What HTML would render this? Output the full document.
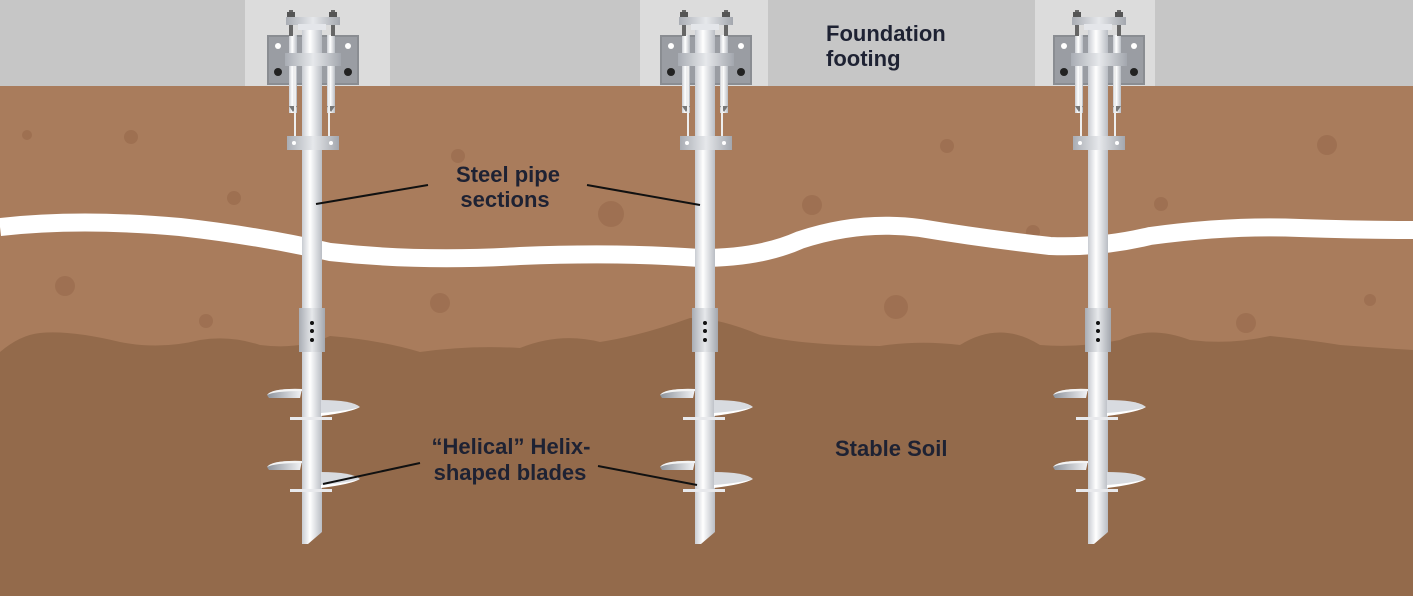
<!DOCTYPE html>
<html><head><meta charset="utf-8"><style>
html,body{margin:0;padding:0;background:#fff}
svg{display:block}
text{font-family:"Liberation Sans",sans-serif;font-weight:bold;fill:#1e2233}
</style></head><body>
<svg width="1413" height="596" viewBox="0 0 1413 596" xmlns="http://www.w3.org/2000/svg">
<defs>
<linearGradient id="pipe" x1="0" x2="1" y1="0" y2="0">
<stop offset="0" stop-color="#c9ccd2"/><stop offset="0.4" stop-color="#ffffff"/><stop offset="1" stop-color="#b9bdc4"/>
</linearGradient>
<linearGradient id="coup" x1="0" x2="1"><stop offset="0" stop-color="#a9adb4"/><stop offset="0.5" stop-color="#e6e8eb"/><stop offset="1" stop-color="#a3a7ae"/></linearGradient>
<linearGradient id="blade" x1="0" x2="1"><stop offset="0" stop-color="#8d939c"/><stop offset="1" stop-color="#f2f3f5"/></linearGradient>
<g id="pile">
 <!-- plate -->
 <rect x="-45" y="35" width="92" height="50" fill="#8a8d92"/>
 <rect x="-43" y="37" width="88" height="46" fill="#9a9da3"/>
 <circle cx="-34" cy="46" r="3" fill="#fff"/><circle cx="36" cy="46" r="3" fill="#fff"/>
 <circle cx="-34" cy="72" r="4" fill="#222"/><circle cx="36" cy="72" r="4" fill="#222"/>
 <!-- pipe -->
 <polygon points="-10,22 10,22 10,532 -4,544 -10,544" fill="url(#pipe)"/>
 <!-- rods -->
 <rect x="-23" y="35" width="8" height="78" fill="url(#pipe)"/>
 <rect x="15" y="35" width="8" height="78" fill="url(#pipe)"/>
 <path d="M-23,106 L-15,106 L-19,112Z" fill="#777"/><path d="M15,106 L23,106 L19,112Z" fill="#777"/>
 <line x1="-17" y1="60" x2="-17" y2="140" stroke="#eee" stroke-width="2"/>
 <line x1="17" y1="60" x2="17" y2="140" stroke="#eee" stroke-width="2"/>
 <!-- bolts on top -->
 <rect x="-23" y="10" width="4" height="26" fill="#666"/><rect x="19" y="10" width="4" height="26" fill="#666"/>
 <rect x="-25" y="12" width="8" height="5" fill="#555"/><rect x="17" y="12" width="8" height="5" fill="#555"/>
 <!-- cap -->
 <rect x="-26" y="17" width="54" height="8" fill="url(#coup)"/>
 <rect x="-14" y="24" width="28" height="6" fill="#e4e6ea"/>
 <!-- clamp -->
 <rect x="-27" y="53" width="56" height="13" fill="url(#coup)"/>
 <!-- lower clamp -->
 <rect x="-25" y="136" width="52" height="14" fill="url(#coup)"/>
 <circle cx="-18" cy="143" r="2" fill="#fff"/><circle cx="19" cy="143" r="2" fill="#fff"/>
 <!-- coupling -->
 <rect x="-13" y="308" width="26" height="44" fill="url(#coup)"/>
 <circle cx="0" cy="323" r="2" fill="#111"/><circle cx="0" cy="331" r="2" fill="#111"/><circle cx="0" cy="340" r="2" fill="#111"/>
 <!-- blades set 1 -->
 <path d="M-45,395 Q-40,388 -10,389 L-12,398 L-43,398Z" fill="url(#blade)"/>
 <path d="M-45,395 Q-40,388 -10,389 L-10,391 Q-38,391 -45,395Z" fill="#f4f4f4"/>
 <path d="M8,400 Q30,398 48,407 Q35,412 8,414Z" fill="url(#blade)" transform="scale(-1,1) translate(0,0)" opacity="0"/>
 <path d="M9,400 Q40,400 48,407 Q35,413 9,415Z" fill="#d8dbe0"/>
 <path d="M9,413 Q35,411 48,407 Q40,412 9,416Z" fill="#fff"/>
 <rect x="-22" y="417" width="42" height="3" fill="#e8e9ec"/>
 <!-- blades set 2 -->
 <path d="M-45,467 Q-40,460 -10,461 L-12,470 L-43,470Z" fill="url(#blade)"/>
 <path d="M-45,467 Q-40,460 -10,461 L-10,463 Q-38,463 -45,467Z" fill="#f4f4f4"/>
 <path d="M9,472 Q40,472 48,479 Q35,485 9,487Z" fill="#d8dbe0"/>
 <path d="M9,485 Q35,483 48,479 Q40,484 9,488Z" fill="#fff"/>
 <rect x="-22" y="489" width="42" height="3" fill="#e8e9ec"/>
</g>
</defs>
<!-- concrete -->
<rect x="0" y="0" width="1413" height="86" fill="#c6c6c6"/>
<rect x="245" y="0" width="145" height="86" fill="#dcdcdc"/>
<rect x="640" y="0" width="128" height="86" fill="#dcdcdc"/>
<rect x="1035" y="0" width="120" height="86" fill="#dcdcdc"/>
<!-- upper soil -->
<rect x="0" y="86" width="1413" height="510" fill="#a97c5c"/>
<!-- lower soil -->
<path d="M0,352 Q20,335 40,333 Q70,330 120,342 Q160,350 200,340 Q230,335 260,345 Q300,350 330,336 Q380,340 420,352 Q470,345 520,348 Q560,332 600,342 Q640,336 690,318 Q720,318 760,335 Q800,345 880,346 Q920,340 960,345 Q1000,320 1040,345 Q1080,348 1120,340 Q1150,325 1190,340 Q1230,345 1270,336 Q1310,340 1340,345 Q1380,348 1413,350 L1413,596 L0,596Z" fill="#936a4b"/>
<!-- pebbles -->
<g fill="#97694b" opacity="0.6">
<circle cx="131" cy="137" r="7"/><circle cx="234" cy="198" r="7"/><circle cx="65" cy="286" r="10"/><circle cx="206" cy="321" r="7"/><circle cx="440" cy="303" r="10"/><circle cx="458" cy="156" r="7"/><circle cx="611" cy="214" r="13"/><circle cx="812" cy="205" r="10"/><circle cx="896" cy="307" r="12"/><circle cx="947" cy="146" r="7"/><circle cx="1033" cy="232" r="7"/><circle cx="1161" cy="204" r="7"/><circle cx="1246" cy="323" r="10"/><circle cx="1327" cy="145" r="10"/><circle cx="1370" cy="300" r="6"/><circle cx="27" cy="135" r="5"/>
</g>
<!-- white band -->
<path d="M0,227 Q80,218 180,227 Q260,236 330,252 Q420,262 520,256 Q620,252 700,258 Q760,258 800,240 Q860,220 920,228 Q980,238 1050,246 Q1100,248 1150,236 Q1230,225 1300,228 Q1360,230 1413,230" fill="none" stroke="#fff" stroke-width="18"/>
<!-- piles -->
<use href="#pile" transform="translate(312,0)"/>
<use href="#pile" transform="translate(705,0)"/>
<use href="#pile" transform="translate(1098,0)"/>
<!-- leader lines -->
<g stroke="#111" stroke-width="2">
<line x1="316" y1="204" x2="428" y2="185"/>
<line x1="587" y1="185" x2="700" y2="205"/>
<line x1="420" y1="463" x2="323" y2="484"/>
<line x1="598" y1="466" x2="697" y2="485"/>
</g>
<!-- labels -->
<text x="826" y="41" font-size="22">Foundation</text>
<text x="826" y="66" font-size="22">footing</text>
<text x="508" y="182" font-size="22" text-anchor="middle">Steel pipe</text>
<text x="505" y="207" font-size="22" text-anchor="middle">sections</text>
<text x="511" y="454" font-size="22" text-anchor="middle">“Helical” Helix-</text>
<text x="510" y="480" font-size="22" text-anchor="middle">shaped blades</text>
<text x="835" y="456" font-size="22">Stable Soil</text>
</svg>
</body></html>
